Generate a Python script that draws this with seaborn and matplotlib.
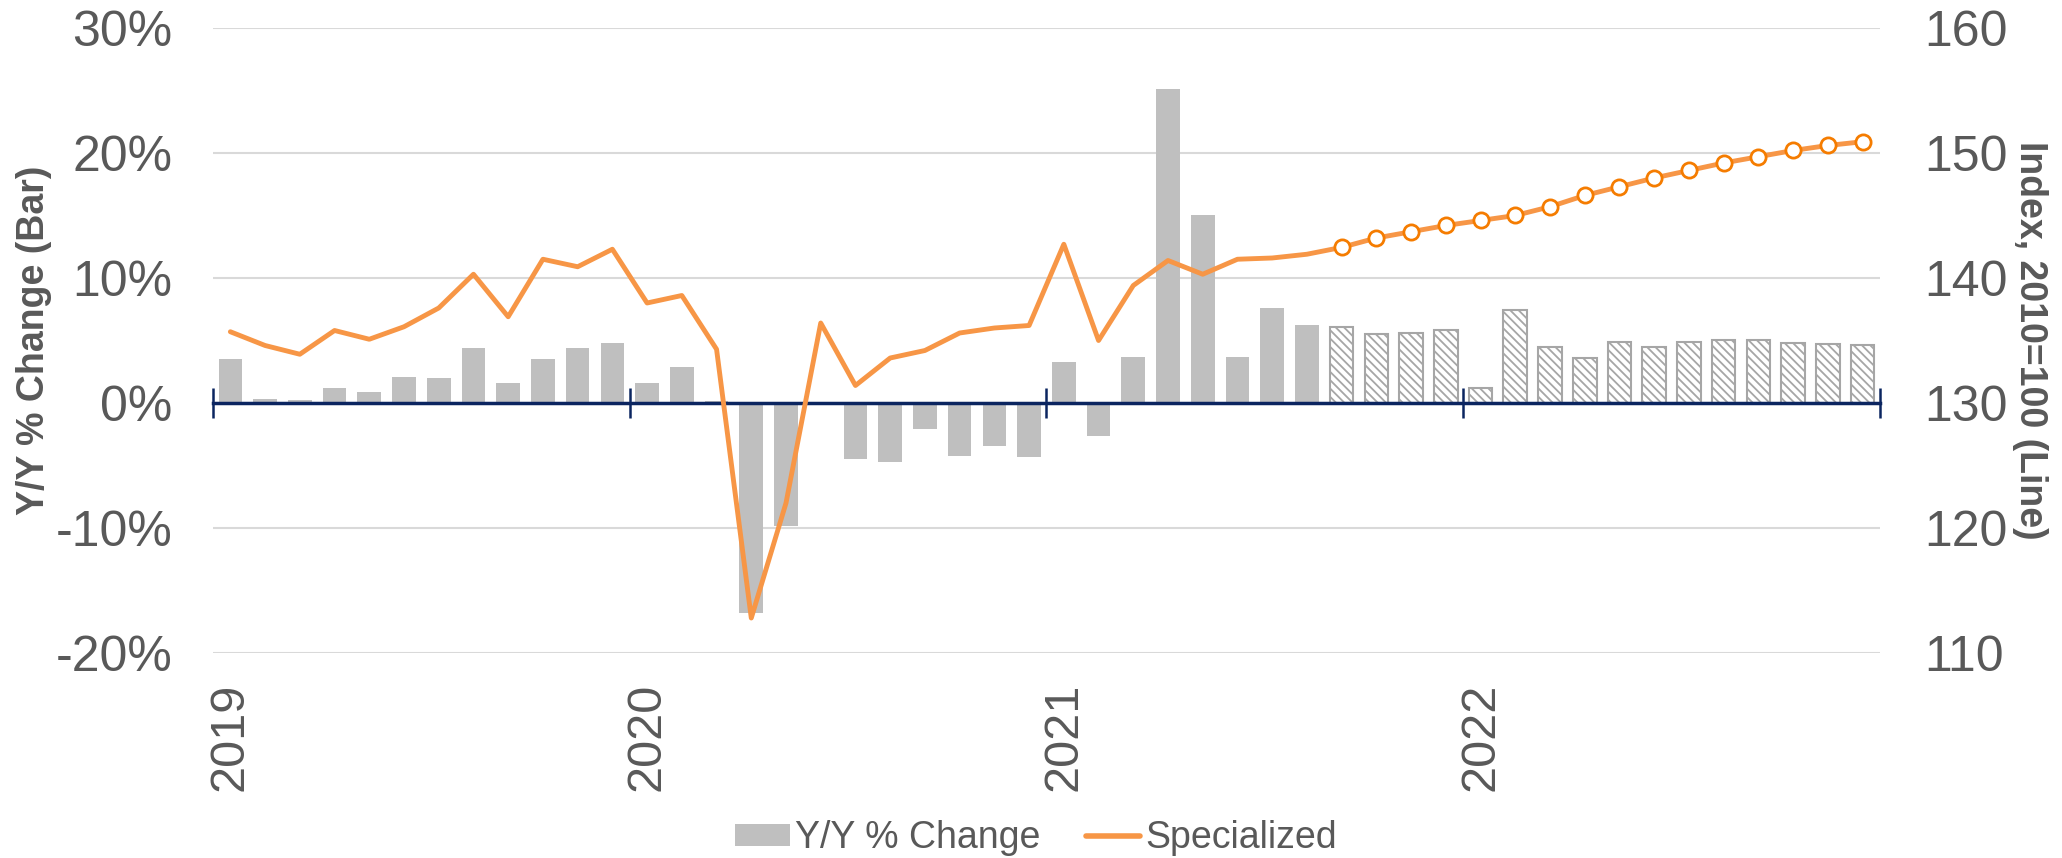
import seaborn as sns
import matplotlib.pyplot as plt
from matplotlib.patches import Patch
from matplotlib.lines import Line2D
import numpy as np

# ======= data (monthly, Jan 2019 - Dec 2022) =======
years = ["2019", "2020", "2021", "2022"]

yoy_change = [
    3.5, 0.35, 0.25, 1.2, 0.9, 2.1, 2.0, 4.4, 1.6, 3.5, 4.4, 4.8,        # 2019
    1.6, 2.9, 0.2, -16.8, -9.8, 0.1, -4.5, -4.7, -2.1, -4.2, -3.4, -4.3,  # 2020
    3.3, -2.6, 3.7, 25.1, 15.0, 3.7, 7.6, 6.2, 6.1, 5.5, 5.6, 5.8,       # 2021
    1.2, 7.4, 4.5, 3.6, 4.9, 4.5, 4.9, 5.0, 5.0, 4.8, 4.7, 4.6,          # 2022
]

index_level = [
    135.7, 134.6, 133.9, 135.8, 135.1, 136.1, 137.6, 140.3, 136.9, 141.5, 140.9, 142.3,
    138.0, 138.6, 134.3, 112.8, 122.0, 136.4, 131.4, 133.6, 134.2, 135.6, 136.0, 136.2,
    142.7, 135.0, 139.4, 141.4, 140.3, 141.5, 141.6, 141.9, 142.45, 143.2, 143.7, 144.2,
    144.6, 145.0, 145.7, 146.6, 147.3, 148.0, 148.6, 149.2, 149.7, 150.2, 150.6, 150.9,
]

forecast_start = 32  # Sep 2021 onwards is forecast
left_ticks = [-20, -10, 0, 10, 20, 30]
right_ticks = [110, 120, 130, 140, 150, 160]
# ====================================================

BAR_GRAY = "#BFBFBF"
ORANGE = "#F79646"
MARKER_ORANGE = "#F57C00"
NAVY = "#0B2560"
TXT = "#595959"


def plot_chart():
    sns.set_style("white")
    plt.rcParams["font.family"] = ["Liberation Sans", "DejaVu Sans"]
    plt.rcParams["hatch.linewidth"] = 1.3

    months = np.arange(len(yoy_change))

    fig, ax = plt.subplots(figsize=(20.62, 8.58), dpi=100)
    fig.subplots_adjust(left=0.1033, right=0.9117, top=0.9674, bottom=0.2389)

    # bars on the left axis, forecast months hatched
    sns.barplot(x=months, y=yoy_change, native_scale=True, color=BAR_GRAY,
                saturation=1, width=0.68, errorbar=None, ax=ax)
    for i, p in enumerate(ax.patches):
        p.set_linewidth(0)
        if i >= forecast_start:
            p.set_facecolor("white")
            p.set_edgecolor("#A6A6A6")
            p.set_hatch("\\\\\\\\")
            p.set_linewidth(1.5)

    ax.set_xlim(-0.5, len(months) - 0.5)
    ax.set_ylim(-20, 30)
    ax.set_yticks(left_ticks)
    ax.set_yticklabels([f"{v}%" for v in left_ticks])
    ax.yaxis.grid(True, color="#D9D9D9", lw=1.5)
    ax.set_axisbelow(True)
    for s in ["top", "left", "right"]:
        ax.spines[s].set_visible(False)
    ax.spines["bottom"].set_position(("data", 0))
    ax.spines["bottom"].set_color(NAVY)
    ax.spines["bottom"].set_linewidth(2.5)
    ax.spines["bottom"].set_zorder(3)

    # year labels under the plot, year-boundary ticks on the zero line
    ax.set_xticks(months[::12])
    ax.set_xticklabels(years, rotation=90)
    ax.set_xticks(np.arange(-0.5, len(months), 12), minor=True)
    ax.tick_params(axis="x", which="major", bottom=True, length=0, pad=201.6,
                   labelsize=35, labelcolor=TXT)
    ax.tick_params(axis="x", which="minor", bottom=True, direction="inout",
                   length=21, width=1.8, color=NAVY)
    ax.tick_params(axis="y", length=0, pad=29.5, labelsize=36, labelcolor=TXT)
    ax.set_xlabel("")
    ax.set_ylabel("Y/Y % Change (Bar)", fontsize=27, fontweight="bold", color=TXT)
    ax.yaxis.set_label_coords(-0.0966, 0.5)

    # index line on the right axis, forecast months with open markers
    ax2 = ax.twinx()
    sns.lineplot(x=months, y=index_level, color=ORANGE, lw=3.5, ax=ax2)
    sns.scatterplot(x=months[forecast_start:], y=index_level[forecast_start:],
                    s=120, facecolor="white", edgecolor=MARKER_ORANGE,
                    linewidth=2, zorder=3, ax=ax2)
    ax2.set_ylim(110, 160)
    ax2.set_yticks(right_ticks)
    ax2.set_yticklabels([str(v) for v in right_ticks])
    ax2.tick_params(axis="y", length=0, pad=31.7, labelsize=36, labelcolor=TXT)
    for s in ax2.spines.values():
        s.set_visible(False)
    ax2.grid(False)
    ax2.set_ylabel("Index, 2010=100 (Line)", fontsize=27, fontweight="bold",
                   color=TXT, rotation=270, va="bottom")
    ax2.yaxis.set_label_coords(1.0792, 0.5)

    handles = [Patch(facecolor=BAR_GRAY, edgecolor="none"),
               Line2D([0], [0], color=ORANGE, lw=4)]
    fig.legend(handles, ["Y/Y % Change", "Specialized"], loc="center",
               bbox_to_anchor=(0.5026, 0.023), ncol=2, frameon=False,
               fontsize=27, labelcolor=TXT, handlelength=1.45,
               handleheight=0.5, handletextpad=0.15, columnspacing=1.2)

    fig.savefig("out.png", dpi=100)


if __name__ == "__main__":
    plot_chart()
